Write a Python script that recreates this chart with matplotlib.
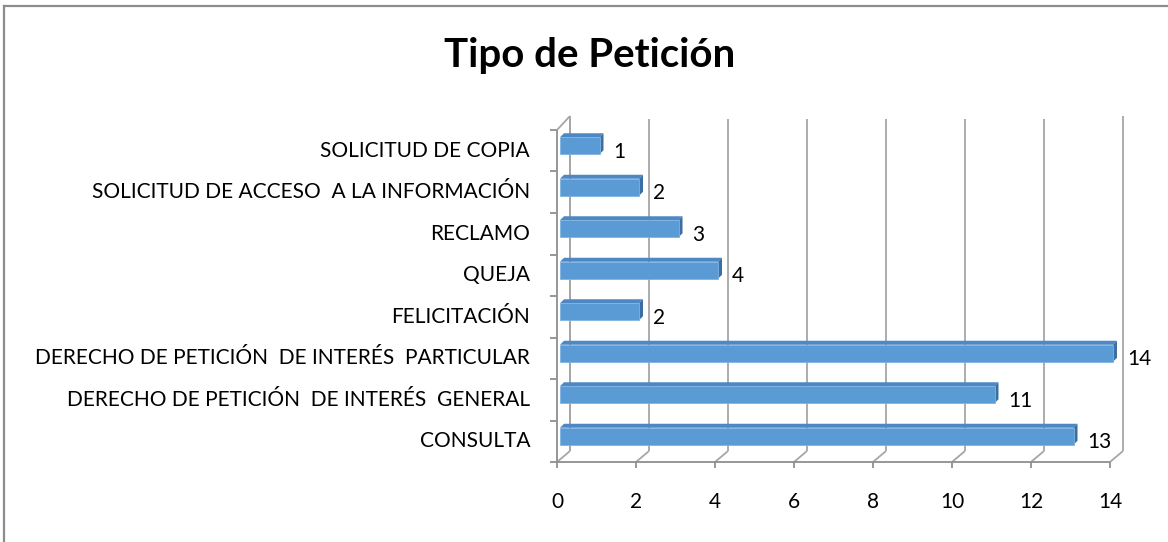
import matplotlib
matplotlib.use("Agg")
import matplotlib.pyplot as plt
from matplotlib.patches import Polygon
from matplotlib.lines import Line2D

categories = ["CONSULTA", "DERECHO DE PETICIÓN  DE INTERÉS  GENERAL",
              "DERECHO DE PETICIÓN  DE INTERÉS  PARTICULAR", "FELICITACIÓN",
              "QUEJA", "RECLAMO", "SOLICITUD DE ACCESO  A LA INFORMACIÓN",
              "SOLICITUD DE COPIA"]
values = [13, 11, 14, 2, 4, 3, 2, 1]
xticks = [0, 2, 4, 6, 8, 10, 12, 14]
title = "Tipo de Petición"

FONT = "Lato"
W, H = 1168, 542
fig = plt.figure(figsize=(W / 100, H / 100), dpi=100)
fig.patch.set_facecolor("white")

# outer border (left/top visible)
fig.add_artist(Line2D([4 / W, 4 / W], [0, 1 - 6 / H], transform=fig.transFigure,
                      color="#8c8c8c", lw=1.6))
fig.add_artist(Line2D([4 / W, 1], [1 - 6 / H, 1 - 6 / H], transform=fig.transFigure,
                      color="#8c8c8c", lw=1.6))

x0, x1, yb, yt = 557, 1110, 462, 130
ax = fig.add_axes([x0 / W, 1 - yb / H, (x1 - x0) / W, (yb - yt) / H])
ax.set_xlim(0, 14)
ax.set_ylim(0, len(categories))
ax.axis("off")


def P(x, y, dx=0.0, dy=0.0):
    d = ax.transData.transform((x, y))
    return tuple(ax.transData.inverted().transform((d[0] + dx, d[1] + dy)))


DX, DY = 13, 11
GRID = "#a6a6a6"
EDGE = "#8f8f8f"
n = len(categories)


def line(pts, color=GRID, lw=1.3, z=1):
    xs = [p[0] for p in pts]
    ys = [p[1] for p in pts]
    ax.add_line(Line2D(xs, ys, color=color, lw=lw, clip_on=False, zorder=z,
                       solid_capstyle="butt"))


# back wall gridlines and floor diagonals
for t in xticks:
    line([P(t, 0, DX, DY), P(t, n, DX, DY + 3 if t == 14 else DY)])
    line([P(t, 0), P(t, 0, DX, DY)])
    line([P(t, 0), P(t, 0, 0, -6)], color=EDGE)
# left wall
line([P(0, 0, DX, DY), P(0, n, DX, DY + 3)])
line([P(0, 0), P(0, n)], color=EDGE)
line([P(0, n), P(0, n, DX, DY + 3)])
for i in range(n + 1):
    line([P(0, i), P(0, i, -7, 0)], color=EDGE)
# front floor
line([P(0, 0), P(14, 0)], color=EDGE)

# bars
FRONT = "#5b9bd5"
SIDE = "#3b6ea3"
TOP = "#4d88c4"
bx, by, hh = 3, 5, 8.5
ddx, ddy = 4, 4
for i, v in enumerate(values):
    c = i + 0.5
    bl = P(0, c, bx, by - hh)
    br = P(v, c, bx, by - hh)
    tr = P(v, c, bx, by + hh)
    tl = P(0, c, bx, by + hh)
    ax.add_patch(Polygon([tl, tr, P(v, c, bx + ddx, by + hh + ddy),
                          P(0, c, bx + ddx, by + hh + ddy)], closed=True,
                         fc=TOP, ec="none", zorder=3, clip_on=False))
    ax.add_patch(Polygon([br, tr, P(v, c, bx + ddx, by + hh + ddy),
                          P(v, c, bx + ddx, by - hh + ddy)], closed=True,
                         fc=SIDE, ec="none", zorder=3, clip_on=False))
    ax.add_patch(Polygon([bl, br, tr, tl], closed=True, fc=FRONT,
                         ec="#7fb3e3", lw=0.6, zorder=4, clip_on=False))
    lx, ly = P(v, c, 17, -1)
    ax.text(lx, ly, str(v), ha="left", va="center", fontsize=15,
            family=FONT, color="black", clip_on=False)
    cx, cy = P(0, c, -27, 0)
    ax.text(cx, cy, categories[i], ha="right", va="center", fontsize=15,
            family=FONT, color="black", clip_on=False)

for t in xticks:
    tx, ty = P(t, 0, 0, -40)
    ax.text(tx, ty, str(t), ha="center", va="center", fontsize=15,
            family=FONT, color="black", clip_on=False)

fig.text(590 / W, 1 - 55 / H, title, ha="center", va="center", fontsize=29,
         fontweight="bold", family=FONT, color="black")

fig.savefig("out.png", dpi=100)
